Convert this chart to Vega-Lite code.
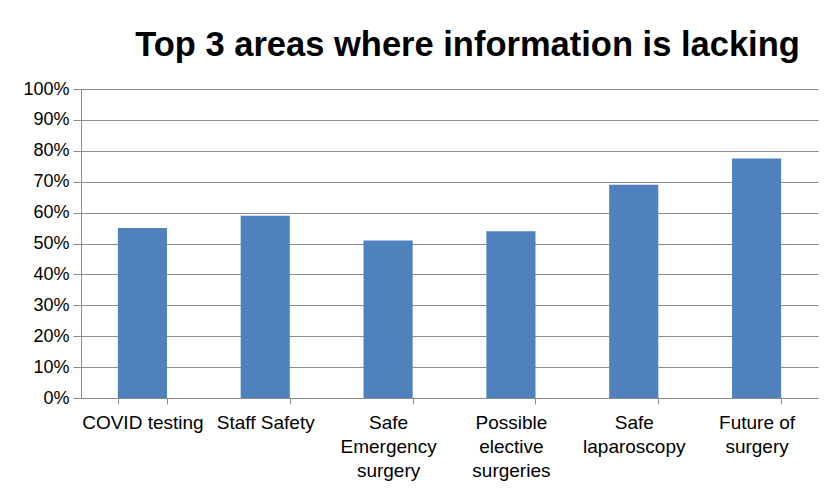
{
  "$schema": "https://vega.github.io/schema/vega-lite/v6.json",
  "width": 737,
  "height": 309,
  "autosize": {"type": "none"},
  "padding": {"left": 81, "top": 89, "right": 8, "bottom": 92},
  "background": "white",
  "title": {
    "text": "Top 3 areas where information is lacking",
    "font": "Liberation Sans",
    "fontSize": 34.5,
    "fontWeight": "bold",
    "color": "black",
    "anchor": "middle",
    "dx": 18,
    "offset": 17
  },
  "data": {
    "values": [
      {"area": "COVID testing", "pct": 0.55},
      {"area": "Staff Safety", "pct": 0.59},
      {"area": "Safe Emergency surgery", "pct": 0.51},
      {"area": "Possible elective surgeries", "pct": 0.54},
      {"area": "Safe laparoscopy", "pct": 0.69},
      {"area": "Future of surgery", "pct": 0.775}
    ]
  },
  "mark": {"type": "bar", "color": "#4F81BD"},
  "encoding": {
    "x": {
      "field": "area",
      "type": "nominal",
      "sort": null,
      "scale": {"paddingInner": 0.6, "paddingOuter": 0.3},
      "axis": {
        "title": null,
        "labelAngle": 0,
        "labelFont": "Liberation Sans",
        "labelFontSize": 19,
        "labelColor": "black",
        "labelPadding": 9,
        "labelLineHeight": 24,
        "tickBand": "extent",
        "tickSize": 6,
        "tickColor": "#8c8c8c",
        "domainColor": "#8c8c8c",
        "grid": false,
        "labelExpr": "datum.value == 'Safe Emergency surgery' ? ['Safe','Emergency','surgery'] : datum.value == 'Possible elective surgeries' ? ['Possible','elective','surgeries'] : datum.value == 'Safe laparoscopy' ? ['Safe','laparoscopy'] : datum.value == 'Future of surgery' ? ['Future of','surgery'] : datum.value"
      }
    },
    "y": {
      "field": "pct",
      "type": "quantitative",
      "scale": {"domain": [0, 1], "nice": false},
      "axis": {
        "title": null,
        "format": ".0%",
        "values": [0, 0.1, 0.2, 0.3, 0.4, 0.5, 0.6, 0.7, 0.8, 0.9, 1],
        "labelFont": "Liberation Sans",
        "labelFontSize": 18,
        "labelColor": "black",
        "labelPadding": 4,
        "tickSize": 8,
        "tickColor": "#8c8c8c",
        "domainColor": "#8c8c8c",
        "gridColor": "#8c8c8c",
        "gridWidth": 1
      }
    }
  },
  "config": {
    "view": {"stroke": null}
  }
}
